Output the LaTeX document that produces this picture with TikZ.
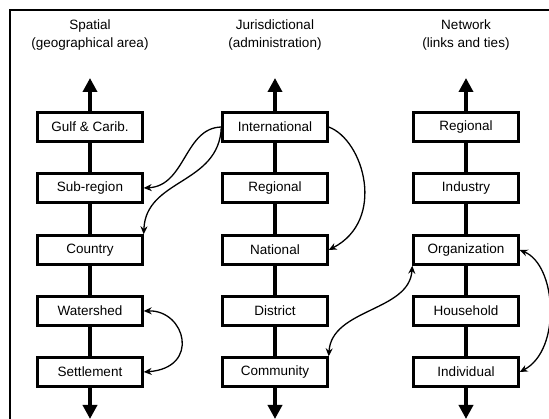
\documentclass[tikz,border=0pt]{standalone}
\usepackage{fontspec}
\setmainfont{Liberation Sans}
\usetikzlibrary{arrows.meta}
\begin{document}
\begin{tikzpicture}[x=1pt,y=-1pt,
  levelbox/.style={draw,line width=2.4pt,fill=white,minimum width=105pt,minimum height=29pt,inner sep=0pt,
    font=\fontsize{13.5}{16}\selectfont},
  title/.style={align=center,font=\fontsize{13.5}{18}\selectfont},
  spine/.style={line width=3.6pt},
  spinetip/.style={spine,-{Triangle[width=14pt,length=14pt]}},
  link/.style={line width=1.3pt,-{Stealth[length=8pt,width=7pt]}},
  duolink/.style={line width=1.3pt,{Stealth[length=8pt,width=7pt]}-{Stealth[length=8pt,width=7pt]}},
  frame/.style={line width=2pt}]
\useasboundingbox (0,0) rectangle (549,419);

% outer frame (open at right and bottom)
\draw[frame] (560,10) -- (10,10) -- (10,430);

% column headings
\node[title] (hs) at (90,35) {Spatial\\(geographical area)};
\node[title] (hj) at (275,35) {Jurisdictional\\(administration)};
\node[title] (hn) at (466,35) {Network\\(links and ties)};

% spatial scale
\node[levelbox] (s1) at (90,127) {Gulf \& Carib.};
\node[levelbox] (s2) at (90,188) {Sub-region};
\node[levelbox] (s3) at (90,250) {Country};
\node[levelbox] (s4) at (90,311) {Watershed};
\node[levelbox] (s5) at (90,372) {Settlement};

% jurisdictional scale
\node[levelbox] (j1) at (275,127) {International};
\node[levelbox] (j2) at (275,188) {Regional};
\node[levelbox] (j3) at (275,250) {National};
\node[levelbox] (j4) at (275,311) {District};
\node[levelbox] (j5) at (275,372) {Community};

% network scale
\node[levelbox] (n1) at (466,127) {Regional};
\node[levelbox] (n2) at (466,188) {Industry};
\node[levelbox] (n3) at (466,250) {Organization};
\node[levelbox] (n4) at (466,311) {Household};
\node[levelbox] (n5) at (466,372) {Individual};

% spine ends
\coordinate (ts) at (90,78);  \coordinate (bs) at (90,419);
\coordinate (tj) at (275,78); \coordinate (bj) at (275,419);
\coordinate (tn) at (466,78); \coordinate (bn) at (466,419);

% spines
\foreach \c/\t/\b in {s/ts/bs, j/tj/bj, n/tn/bn}{
  \draw[spinetip] (\c1.north) -- (\t);
  \draw[spine] (\c1.south) -- (\c2.north);
  \draw[spine] (\c2.south) -- (\c3.north);
  \draw[spine] (\c3.south) -- (\c4.north);
  \draw[spine] (\c4.south) -- (\c5.north);
  \draw[spinetip] (\c5.south) -- (\b);
}

% cross-scale links
\draw[link] (j1.west) .. controls +(-37,1) and +(42,-2) .. (s2.east);
\draw[link] (j1.west) .. controls +(-2,58) and +(2,-56) .. (s3.north east);
\draw[link] (j1.east) .. controls +(35,13) and +(58,-30) .. (j3.east);
\draw[duolink] (j5.north east) .. controls +(3,-48) and +(-3,46) .. (n3.south west);
\draw[duolink] (n3.east) .. controls +(37,15) and +(42,-22) .. (n5.east);
\draw[duolink] (s4.east) .. controls +(42,-1) and +(57,-4) .. (s5.east);
\end{tikzpicture}
\end{document}
